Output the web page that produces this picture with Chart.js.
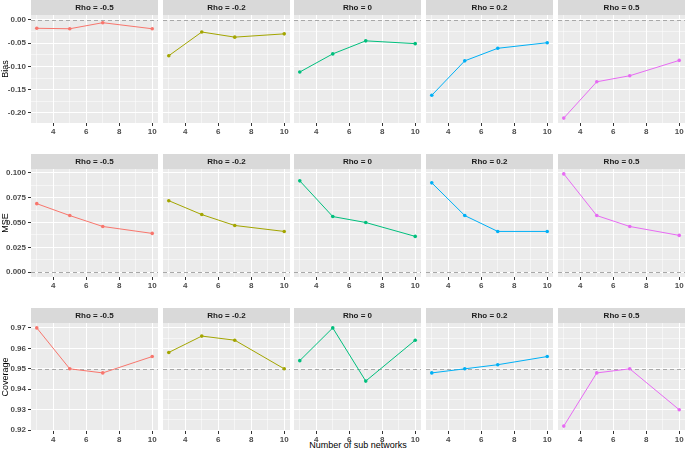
<!DOCTYPE html>
<html>
<head>
<meta charset="utf-8">
<script src="https://cdn.jsdelivr.net/npm/chart.js@4.4.0/dist/chart.umd.min.js"></script>
<style>
  body { margin: 0; background: #fff; width: 685px; height: 452px; overflow: hidden; position: relative; font-family: "Liberation Sans", Arial, sans-serif; }
  .cell { position: absolute; }
  #xtitle { position: absolute; left: 258px; width: 200px; top: 440px; text-align: center; font-size: 9px; line-height: 10px; color: #000; white-space: nowrap; }
</style>
</head>
<body>
<div id="xtitle">Number of sub networks</div>
<script>
// data
const subNetworks = [3, 5, 7, 10];
const xTicks = [4, 6, 8, 10];
const rhoLabels = ["Rho = -0.5", "Rho = -0.2", "Rho = 0", "Rho = 0.2", "Rho = 0.5"];
const seriesColors = ["#F8766D", "#A3A500", "#00BF7D", "#00B0F6", "#E76BF3"];
const metricNames = ["Bias", "MSE", "Coverage"];

const biasValues = [
  [-0.018, -0.019, -0.006, -0.019],
  [-0.077, -0.026, -0.037, -0.030],
  [-0.112, -0.073, -0.045, -0.051],
  [-0.162, -0.088, -0.061, -0.049],
  [-0.211, -0.133, -0.120, -0.087]
];
const mseValues = [
  [0.069, 0.057, 0.046, 0.039],
  [0.072, 0.058, 0.047, 0.041],
  [0.092, 0.056, 0.050, 0.036],
  [0.090, 0.057, 0.041, 0.041],
  [0.099, 0.057, 0.046, 0.037]
];
const coverageValues = [
  [0.970, 0.950, 0.948, 0.956],
  [0.958, 0.966, 0.964, 0.950],
  [0.954, 0.970, 0.944, 0.964],
  [0.948, 0.950, 0.952, 0.956],
  [0.922, 0.948, 0.950, 0.930]
];
const biasTicks = [-0.20, -0.15, -0.10, -0.05, 0.00];
const mseTicks = [0.000, 0.025, 0.050, 0.075, 0.100];
const coverageTicks = [0.92, 0.93, 0.94, 0.95, 0.96, 0.97];
const refLines = [0, 0, 0.95];

const rowValues = [biasValues, mseValues, coverageValues];
const rowTicks = [biasTicks, mseTicks, coverageTicks];
const rowDecimals = [2, 3, 2];

// layout
const FONT = '"Liberation Sans", Arial, sans-serif';
const STRIP_H = 15, PANEL_H = 108, XAXIS_H = 14, YAXIS_W = 31;
const rowTops = [0, 154, 308];
const colLefts = [31, 163, 294, 426, 558];
const PANEL_W = 127;

// ggplot style: expand limits by 5% of range
function expand(lo, hi) {
  const d = (hi - lo) * 0.05;
  return [lo - d, hi + d];
}
// majors plus midpoints (minor grid)
function withMinors(majors, lo, hi) {
  const step = majors[1] - majors[0];
  const out = majors.map(v => ({ value: v, minor: false }));
  for (let v = majors[0] - step / 2; v <= majors[majors.length - 1] + step; v += step) {
    if (v > lo && v < hi) out.push({ value: v, minor: true });
  }
  return out.sort((a, b) => a.value - b.value);
}

const facetPlugin = {
  id: "facet",
  beforeDraw(chart, args, opts) {
    const { ctx, chartArea: a } = chart;
    ctx.save();
    ctx.fillStyle = "#EBEBEB";
    ctx.fillRect(a.left, a.top, a.right - a.left, a.bottom - a.top);
    ctx.fillStyle = "#D9D9D9";
    ctx.fillRect(a.left, a.top - STRIP_H, a.right - a.left, STRIP_H);
    ctx.fillStyle = "#1A1A1A";
    ctx.font = "bold 8px " + FONT;
    ctx.textAlign = "center";
    ctx.textBaseline = "middle";
    ctx.fillText(opts.label, (a.left + a.right) / 2, a.top - STRIP_H / 2 + 0.5);
    ctx.restore();
  },
  beforeDatasetsDraw(chart, args, opts) {
    const { ctx, chartArea: a } = chart;
    const y = Math.round(chart.scales.y.getPixelForValue(opts.ref)) + 0.5;
    ctx.save();
    ctx.strokeStyle = "#A8A8A8";
    ctx.lineWidth = 1;
    ctx.setLineDash([4, 3]);
    ctx.beginPath();
    ctx.moveTo(a.left, y);
    ctx.lineTo(a.right, y);
    ctx.stroke();
    ctx.restore();
  }
};

const xAll = [...xTicks, ...subNetworks];
const xLim = expand(Math.min(...xAll), Math.max(...xAll));
const xGrid = withMinors(xTicks, xLim[0], xLim[1]);

for (let r = 0; r < 3; r++) {
  const vals = rowValues[r].flat().concat([refLines[r]]);
  const yLim = expand(Math.min(...vals), Math.max(...vals));
  const yGrid = withMinors(rowTicks[r], yLim[0], yLim[1]);

  for (let c = 0; c < 5; c++) {
    const first = c === 0;
    const div = document.createElement("div");
    div.className = "cell";
    const left = first ? 0 : colLefts[c];
    const width = first ? colLefts[0] + PANEL_W : PANEL_W;
    div.style.left = left + "px";
    div.style.top = rowTops[r] + "px";
    div.style.width = width + "px";
    div.style.height = (STRIP_H + PANEL_H + XAXIS_H) + "px";
    const canvas = document.createElement("canvas");
    div.appendChild(canvas);
    document.body.appendChild(div);

    const gridStyle = (ticksOn) => ({
      color: "#FFFFFF",
      lineWidth: ctx => (ctx.tick && ctx.tick.minor ? 0.5 : 1),
      drawTicks: ticksOn,
      tickLength: 3,
      tickWidth: 1,
      tickColor: ctx => (ctx.tick && ctx.tick.minor ? "rgba(0,0,0,0)" : "#333333")
    });

    new Chart(canvas, {
      type: "line",
      data: {
        datasets: [{
          data: subNetworks.map((x, i) => ({ x: x, y: rowValues[r][c][i] })),
          borderColor: seriesColors[c],
          backgroundColor: seriesColors[c],
          borderWidth: 1,
          pointRadius: 1.8,
          pointBorderWidth: 0,
          tension: 0
        }]
      },
      options: {
        responsive: true,
        maintainAspectRatio: false,
        animation: false,
        events: [],
        layout: { autoPadding: false, padding: { top: STRIP_H, left: 0, right: 0, bottom: 0 } },
        plugins: {
          legend: { display: false },
          tooltip: { enabled: false },
          facet: { label: rhoLabels[c], ref: refLines[r] }
        },
        scales: {
          x: {
            type: "linear",
            min: xLim[0],
            max: xLim[1],
            bounds: "data",
            afterBuildTicks: s => { s.ticks = xGrid.map(t => ({ value: t.value, minor: t.minor })); },
            afterFit: s => { s.height = XAXIS_H; },
            border: { display: false },
            grid: gridStyle(true),
            ticks: {
              autoSkip: false,
              maxRotation: 0,
              padding: 1,
              color: "#4D4D4D",
              font: { size: 8, family: FONT, weight: "bold" },
              callback: (v, i, t) => (t[i].minor ? "" : String(v))
            }
          },
          y: {
            type: "linear",
            min: yLim[0],
            max: yLim[1],
            bounds: "data",
            afterBuildTicks: s => { s.ticks = yGrid.map(t => ({ value: t.value, minor: t.minor })); },
            afterFit: s => { s.width = first ? YAXIS_W : 0; },
            border: { display: false },
            grid: gridStyle(first),
            ticks: {
              display: first,
              padding: 2,
              color: "#4D4D4D",
              font: { size: 8, family: FONT, weight: "bold" },
              callback: (v, i, t) => (t[i].minor ? "" : v.toFixed(rowDecimals[r]))
            },
            title: {
              display: first,
              text: metricNames[r],
              color: "#000000",
              padding: 0,
              font: { size: 9, family: FONT }
            }
          }
        }
      },
      plugins: [facetPlugin]
    });
  }
}
</script>
</body>
</html>
